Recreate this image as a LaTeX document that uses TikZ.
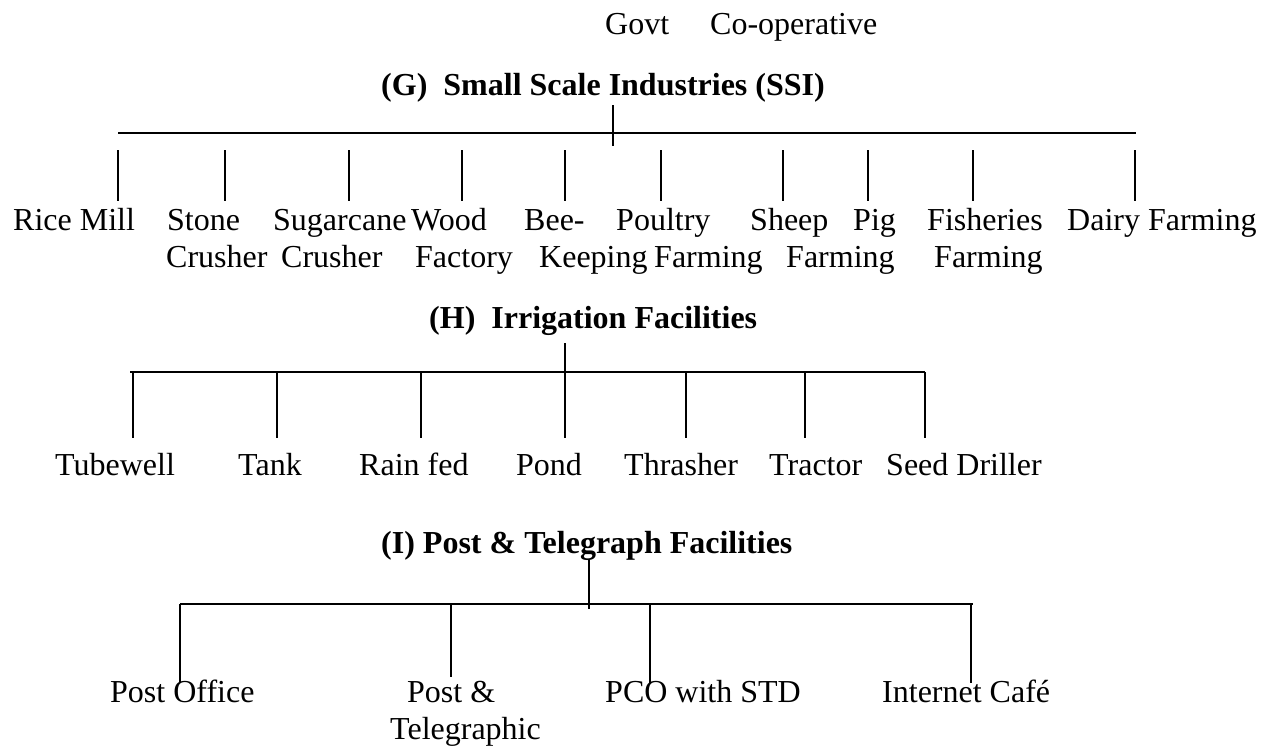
\documentclass[tikz,border=0pt]{standalone}
\usepackage{fontspec}
\setmainfont{Liberation Serif}
\begin{document}
\begin{tikzpicture}[x=1pt,y=-1pt,
  lbl/.style={anchor=base west, inner sep=0pt, font=\fontsize{32}{38}\selectfont},
  ttl/.style={anchor=base west, inner sep=0pt, font=\fontsize{32}{38}\selectfont\bfseries},
  bar/.style={line width=2pt},
  stem/.style={line width=1.5pt}]
\useasboundingbox (0,0) rectangle (1268,745);

% top labels
\node[lbl] (govt) at (605,34) {Govt};
\node[lbl] (coop) at (710,34) {Co-operative};

% ---------- (G) ----------
\node[ttl] (gt) at (381,95) {(G)\ \ Small Scale Industries (SSI)};
\coordinate (gs1) at (613,105); \coordinate (gs2) at (613,146);
\coordinate (gl) at (118,133); \coordinate (gr) at (1136,133);
\draw[bar] (gl) -- (gr);
\draw[stem] (gs1) -- (gs2);
\foreach \x [count=\i] in {118,225,349,462,565,661,783,868,973,1135}{
  \coordinate (ga\i) at (\x,150); \coordinate (gb\i) at (\x,201);
  \draw[stem] (ga\i) -- (gb\i);
}
\node[lbl] (g1) at (13,230) {Rice Mill};
\node[lbl] (g2) at (167,230) {Stone};
\node[lbl] (g3) at (273,230) {Sugarcane};
\node[lbl] (g4) at (411,230) {Wood};
\node[lbl] (g5) at (524,230) {Bee-};
\node[lbl] (g6) at (616,230) {Poultry};
\node[lbl] (g7) at (750,230) {Sheep};
\node[lbl] (g8) at (853,230) {Pig};
\node[lbl] (g9) at (927,230) {Fisheries};
\node[lbl] (g10) at (1067,230) {Dairy Farming};
\node[lbl] (g2b) at (166,267) {Crusher};
\node[lbl] (g3b) at (281,267) {Crusher};
\node[lbl] (g4b) at (415,267) {Factory};
\node[lbl] (g5b) at (539,267) {Keeping};
\node[lbl] (g6b) at (654,267) {Farming};
\node[lbl] (g7b) at (786,267) {Farming};
\node[lbl] (g9b) at (934,267) {Farming};

% ---------- (H) ----------
\node[ttl] (ht) at (429,328) {(H)\ \ Irrigation Facilities};
\coordinate (hs1) at (565,343); \coordinate (hs2) at (565,372);
\coordinate (hl) at (130,372); \coordinate (hr) at (925,372);
\draw[stem] (hs1) -- (hs2);
\draw[line width=1.7pt] (hl) -- (hr);
\foreach \x [count=\i] in {133,277,421,565,686,805,925}{
  \coordinate (ha\i) at (\x,372); \coordinate (hb\i) at (\x,438);
  \draw[stem] (ha\i) -- (hb\i);
}
\node[lbl] (h1) at (55,475) {Tubewell};
\node[lbl] (h2) at (238,475) {Tank};
\node[lbl] (h3) at (359,475) {Rain fed};
\node[lbl] (h4) at (516,475) {Pond};
\node[lbl] (h5) at (624,475) {Thrasher};
\node[lbl] (h6) at (769,475) {Tractor};
\node[lbl] (h7) at (886,475) {Seed Driller};

% ---------- (I) ----------
\node[ttl] (it) at (381,553) {(I) Post \& Telegraph Facilities};
\coordinate (is1) at (589,559); \coordinate (is2) at (589,609);
\coordinate (il) at (180,604); \coordinate (ir) at (973,604);
\draw[stem] (is1) -- (is2);
\draw[line width=2.2pt] (il) -- (ir);
\foreach \x/\y [count=\i] in {180/682,451/677,650/683,971/683}{
  \coordinate (ia\i) at (\x,604); \coordinate (ib\i) at (\x,\y);
  \draw[stem] (ia\i) -- (ib\i);
}
\node[lbl] (i1) at (110,702) {Post Office};
\node[lbl] (i2) at (407,702) {Post \&};
\node[lbl] (i2b) at (390,739) {Telegraphic};
\node[lbl] (i3) at (605,702) {PCO with STD};
\node[lbl] (i4) at (882,702) {Internet Café};
\end{tikzpicture}
\end{document}
